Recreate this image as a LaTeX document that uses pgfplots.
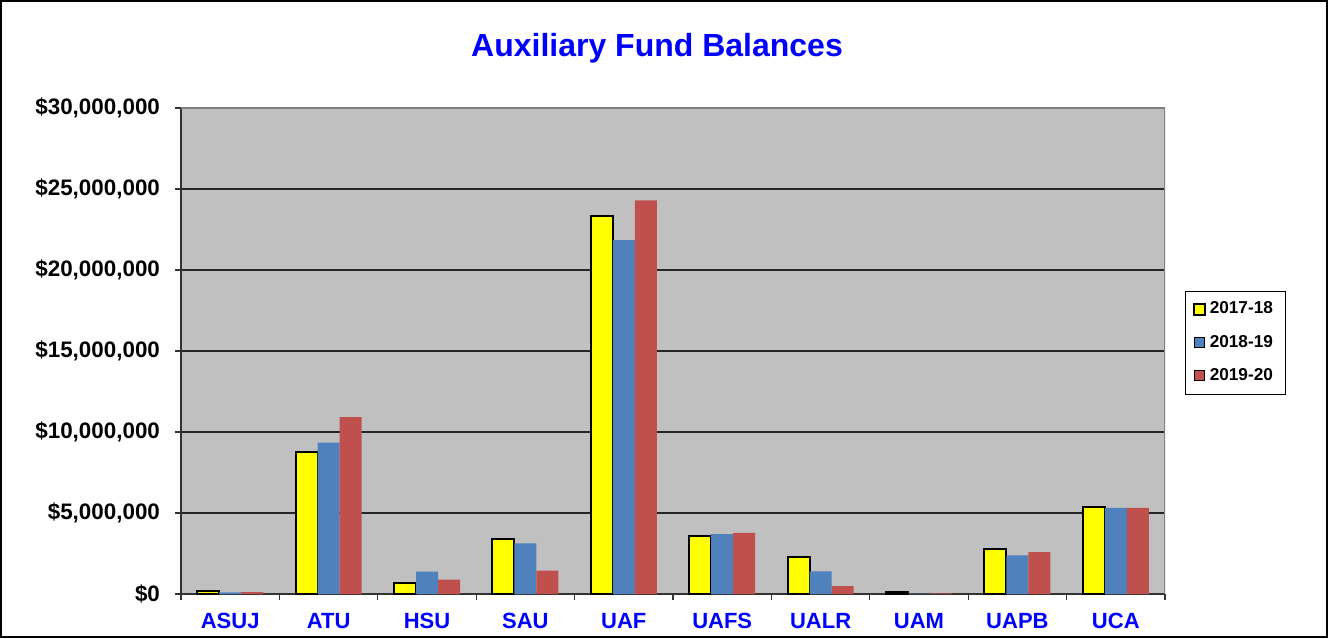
\documentclass[border=0pt]{standalone}
\usepackage{fontspec}
\setmainfont{Liberation Sans}
\usepackage{pgfplots}
\pgfplotsset{compat=1.18}
\definecolor{plotbg}{HTML}{C0C0C0}
\definecolor{c1}{HTML}{FFFF00}
\definecolor{c2}{HTML}{4F81BD}
\definecolor{c3}{HTML}{C0504D}
\definecolor{tblue}{HTML}{0000FF}

% balances in millions of dollars
\pgfplotstableread{
x  a     b      c
0  0.17  0.10   0.12
1  8.79  9.35   10.92
2  0.70  1.38   0.89
3  3.38  3.13   1.44
4  23.33 21.85  24.30
5  3.58  3.70   3.77
6  2.26  1.40   0.49
7  0.10  0.03   0.04
8  2.76  2.39   2.59
9  5.39  5.31   5.31
}\balances

\pgfplotsset{sqlegend/.style={legend image code/.code={
  \draw[##1] (0pt,-2.6pt) rectangle (5.2pt,2.6pt);}}}

\begin{document}
\begin{tikzpicture}[x=0.5pt,y=0.5pt]
\path[use as bounding box] (0,0) rectangle (1328,638);
\draw[black, line width=1pt] (1,1) rectangle (1327,637);
\node[font=\fontsize{16}{18}\selectfont\bfseries, text=tblue] at (657,590) {Auxiliary Fund Balances};
\begin{axis}[
  at={(90.5pt,22pt)}, anchor=south west,
  width=492pt, height=243pt, scale only axis,
  axis background/.style={fill=plotbg},
  ybar=0pt, bar width=11pt,
  xmin=-0.5, xmax=9.5, ymin=0, ymax=30,
  axis lines*=left,
  axis line style={black!80, line width=0.8pt},
  xtick={0,...,9},
  xticklabels={ASUJ,ATU,HSU,SAU,UAF,UAFS,UALR,UAM,UAPB,UCA},
  minor xtick={-0.5,0.5,...,9.5},
  every major x tick/.append style={draw=none},
  tick align=outside,
  major tick length=3pt, minor tick length=3pt,
  tick style={black!80, line width=0.6pt},
  xticklabel style={font=\fontsize{11}{13}\selectfont\bfseries, text=tblue, yshift=-3pt},
  ytick={0,5,...,30},
  yticklabels={{\$0},{\$5,000,000},{\$10,000,000},{\$15,000,000},{\$20,000,000},{\$25,000,000},{\$30,000,000}},
  yticklabel style={font=\fontsize{11.2}{13}\selectfont\bfseries, text=black, xshift=-4pt},
  ymajorgrids, grid style={black!85, line width=0.6pt},
  legend style={at={(1.0203,0.5175)}, anchor=west, draw=black, fill=white,
    font=\fontsize{8.6}{10}\selectfont\bfseries, row sep=5pt,
    inner xsep=4pt, inner ysep=3.5pt},
  legend cell align=left,
]
\addplot[sqlegend, fill=c1, draw=black, line width=1pt] table[x=x, y=a] {\balances};
\addlegendentry{2017-18}
\addplot[sqlegend, fill=c2, draw=none] table[x=x, y=b] {\balances};
\addlegendentry{2018-19}
\addplot[sqlegend, fill=c3, draw=none] table[x=x, y=c] {\balances};
\addlegendentry{2019-20}
\draw[gray, line width=0.7pt] (rel axis cs:0,1) -- (rel axis cs:1,1) -- (rel axis cs:1,0);
\end{axis}
\end{tikzpicture}
\end{document}
